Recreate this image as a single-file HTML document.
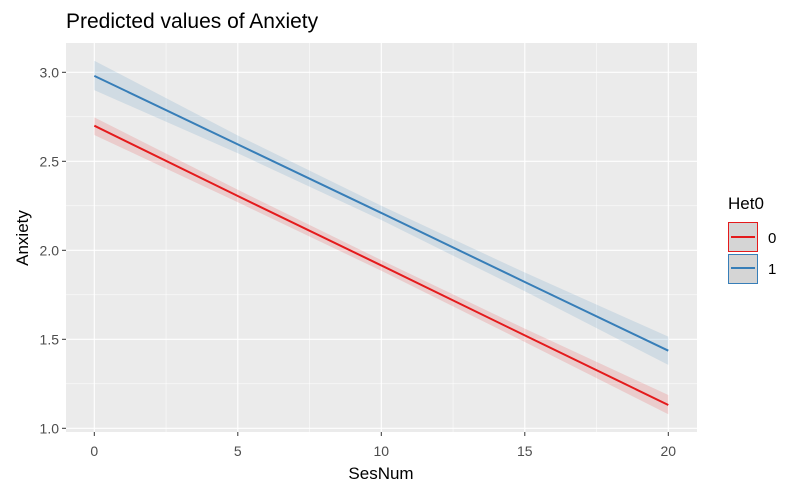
<!DOCTYPE html>
<html><head><meta charset="utf-8"><style>
body{margin:0;background:#fff;}
svg text{font-family:"Liberation Sans",Arial,sans-serif;}
</style></head><body>
<svg width="798" height="493" xmlns="http://www.w3.org/2000/svg">
<text x="66" y="28" font-size="21" fill="#000">Predicted values of Anxiety</text>
<rect x="66" y="43" width="631" height="389" fill="#ebebeb"/>
<g id="grid"></g>
<g id="series"></g>
<g id="axes"></g>
<text x="381" y="479" font-size="17" text-anchor="middle">SesNum</text>
<text transform="translate(28,238) rotate(-90)" font-size="17" text-anchor="middle">Anxiety</text>
<g>
<text x="728" y="209" font-size="17">Het0</text>
<g>
<rect x="728.5" y="222.5" width="29" height="29" fill="#d5d5d5" stroke="#e41a1c" stroke-width="1"/>
<line x1="731" y1="237" x2="755" y2="237" stroke="#e41a1c" stroke-width="2"/>
<text x="768" y="243" font-size="15">0</text></g>
<g>
<rect x="728.5" y="254.5" width="29" height="29" fill="#d5d5d5" stroke="#377eb8" stroke-width="1"/>
<line x1="731" y1="268" x2="755" y2="268" stroke="#377eb8" stroke-width="2"/>
<text x="768" y="274" font-size="15">1</text></g>
</g>
</svg>
<script>
const xs=[0,5,10,15,20];
const fit0=[2.70,2.305,1.915,1.522,1.131];
const lo0=[2.648,2.27,1.885,1.485,1.079];
const hi0=[2.747,2.34,1.945,1.56,1.187];
const fit1=[2.98,2.595,2.21,1.822,1.436];
const lo1=[2.90,2.545,2.17,1.77,1.356];
const hi1=[3.065,2.645,2.25,1.875,1.515];
const xTicks=[0,5,10,15,20];
const yTicks=[1.0,1.5,2.0,2.5,3.0];
const yTickLabels=["1.0","1.5","2.0","2.5","3.0"];
const NS="http://www.w3.org/2000/svg";
const X=v=>94.3+v*28.7, Y=v=>428.3-(v-1)*178;
function mk(p,t,a){const e=document.createElementNS(NS,t);for(const k in a)e.setAttribute(k,a[k]);p.appendChild(e);return e;}
const grid=document.getElementById('grid'),ser=document.getElementById('series'),ax=document.getElementById('axes');
for(let i=0;i<xTicks.length;i++){const v=xTicks[i];
 const l=mk(grid,'line',{x1:X(v),x2:X(v),y1:43,y2:432,stroke:'#fff','stroke-width':1.1});
 
 
 if(i<xTicks.length-1){const m=(v+xTicks[i+1])/2;const l2=mk(grid,'line',{x1:X(m),x2:X(m),y1:43,y2:432,stroke:'#fff','stroke-width':0.5});
 
 }
 mk(ax,'line',{x1:X(v),x2:X(v),y1:432,y2:436,stroke:'#333'});
 const t=mk(ax,'text',{x:X(v),y:456,'font-size':14,'text-anchor':'middle',fill:'#4d4d4d'});t.textContent=v;
 
 }
for(let i=0;i<yTicks.length;i++){const v=yTicks[i];
 const l=mk(grid,'line',{x1:66,x2:697,y1:Y(v),y2:Y(v),stroke:'#fff','stroke-width':1.1});
 
 
 if(i<yTicks.length-1){const m=(v+yTicks[i+1])/2;const l2=mk(grid,'line',{x1:66,x2:697,y1:Y(m),y2:Y(m),stroke:'#fff','stroke-width':0.5});
 
 }
 mk(ax,'line',{x1:62,x2:66,y1:Y(v),y2:Y(v),stroke:'#333'});
 const t=mk(ax,'text',{x:59,y:Y(v)+5,'font-size':14,'text-anchor':'end',fill:'#4d4d4d'});t.textContent=yTickLabels[i];
 
 }
function draw(fit,lo,hi,col,name){
 let d='M'+xs.map((x,i)=>X(x)+','+Y(hi[i])).join('L');
 d+='L'+xs.map((x,i)=>X(x)+','+Y(lo[i])).reverse().join('L')+'Z';
 const r=mk(ser,'path',{d:d,fill:col,'fill-opacity':0.15});
 
 
 const p=mk(ser,'polyline',{points:xs.map((x,i)=>X(x)+','+Y(fit[i])).join(' '),fill:'none',stroke:col,'stroke-width':2});
 
 
}
draw(fit0,lo0,hi0,'#e41a1c','het0-0');
draw(fit1,lo1,hi1,'#377eb8','het0-1');
</script>
</body></html>
